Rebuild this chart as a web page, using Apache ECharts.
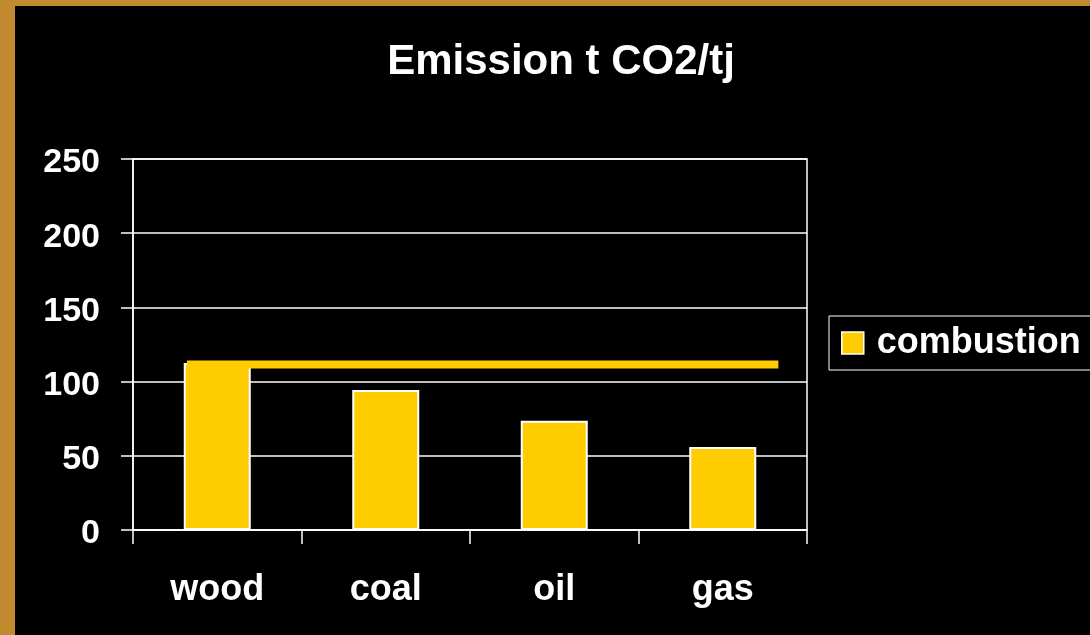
<!DOCTYPE html>
<html>
<head>
<meta charset="utf-8">
<script src="https://cdn.jsdelivr.net/npm/echarts@6/dist/echarts.min.js"></script>
<style>
  html, body { margin: 0; padding: 0; background: #c18a2e; overflow: hidden; }
  #chart { position: absolute; left: 15px; top: 6px; width: 1075px; height: 629px; background: #000; }
</style>
</head>
<body>
<div id="chart"></div>
<script>
var categories = ['wood', 'coal', 'oil', 'gas'];
var combustion = [112.5, 94.3, 73.6, 56];
var yTicks = [0, 50, 100, 150, 200, 250];
// reference level drawn across, in category-index units on a hidden x axis
var refLine = [[-0.18, 111.5], [3.33, 111.5]];

var font = '"Liberation Sans", Arial, sans-serif';
var chart = echarts.init(document.getElementById('chart'));

chart.setOption({
    backgroundColor: '#000',
    animation: false,
    title: {
        text: 'Emission t CO2/tj',
        left: 541,
        top: 30,
        textAlign: 'center',
        textStyle: { color: '#fff', fontSize: 42, fontWeight: 'bold', fontFamily: font }
    },
    legend: {
        data: ['combustion'],
        left: 814,
        top: 310,
        orient: 'vertical',
        icon: 'rect',
        borderColor: '#fff',
        borderWidth: 1,
        borderRadius: 0,
        padding: [9, 30, 9, 12],
        itemWidth: 22,
        itemHeight: 22,
        itemGap: 0,
        textStyle: { color: '#fff', fontSize: 36, fontWeight: 'bold', fontFamily: font, padding: [0, 0, 0, 8] },
        itemStyle: { borderColor: '#fff', borderWidth: 1.5 }
    },
    grid: {
        left: 118, top: 153, width: 674, height: 371,
        show: true, borderColor: '#fff', borderWidth: 1.5
    },
    xAxis: [{
        type: 'category',
        data: categories,
        axisLine: { show: true, lineStyle: { color: '#fff', width: 1.5 } },
        axisTick: { show: true, interval: 0, alignWithLabel: false, length: 14, lineStyle: { color: '#fff', width: 1.5 } },
        axisLabel: { color: '#fff', fontSize: 36, fontWeight: 'bold', fontFamily: font, margin: 42 }
    }, {
        type: 'value',
        min: -0.5,
        max: 3.5,
        show: false
    }],
    yAxis: {
        type: 'value',
        min: yTicks[0],
        max: yTicks[yTicks.length - 1],
        interval: 50,
        axisLine: { show: true, onZero: false, lineStyle: { color: '#fff', width: 1.5 } },
        axisTick: { show: true, length: 12, lineStyle: { color: '#fff', width: 1.5 } },
        splitLine: { lineStyle: { color: '#fff', width: 1.5 } },
        axisLabel: {
            margin: 33,
            formatter: function (v) { return '{n|' + v + '}'; },
            rich: {
                n: { color: '#fff', fontSize: 34, fontWeight: 'bold', fontFamily: font, padding: [8, 0, 0, 0] }
            }
        }
    },
    series: [{
        name: 'combustion',
        type: 'bar',
        data: combustion,
        barWidth: 67,
        itemStyle: { color: '#ffcc00', borderColor: '#fff', borderWidth: 2 }
    }, {
        name: 'level',
        type: 'line',
        xAxisIndex: 1,
        data: refLine,
        symbol: 'none',
        lineStyle: { color: '#ffcc00', width: 8, cap: 'butt' },
        z: 3
    }]
});
</script>
</body>
</html>
